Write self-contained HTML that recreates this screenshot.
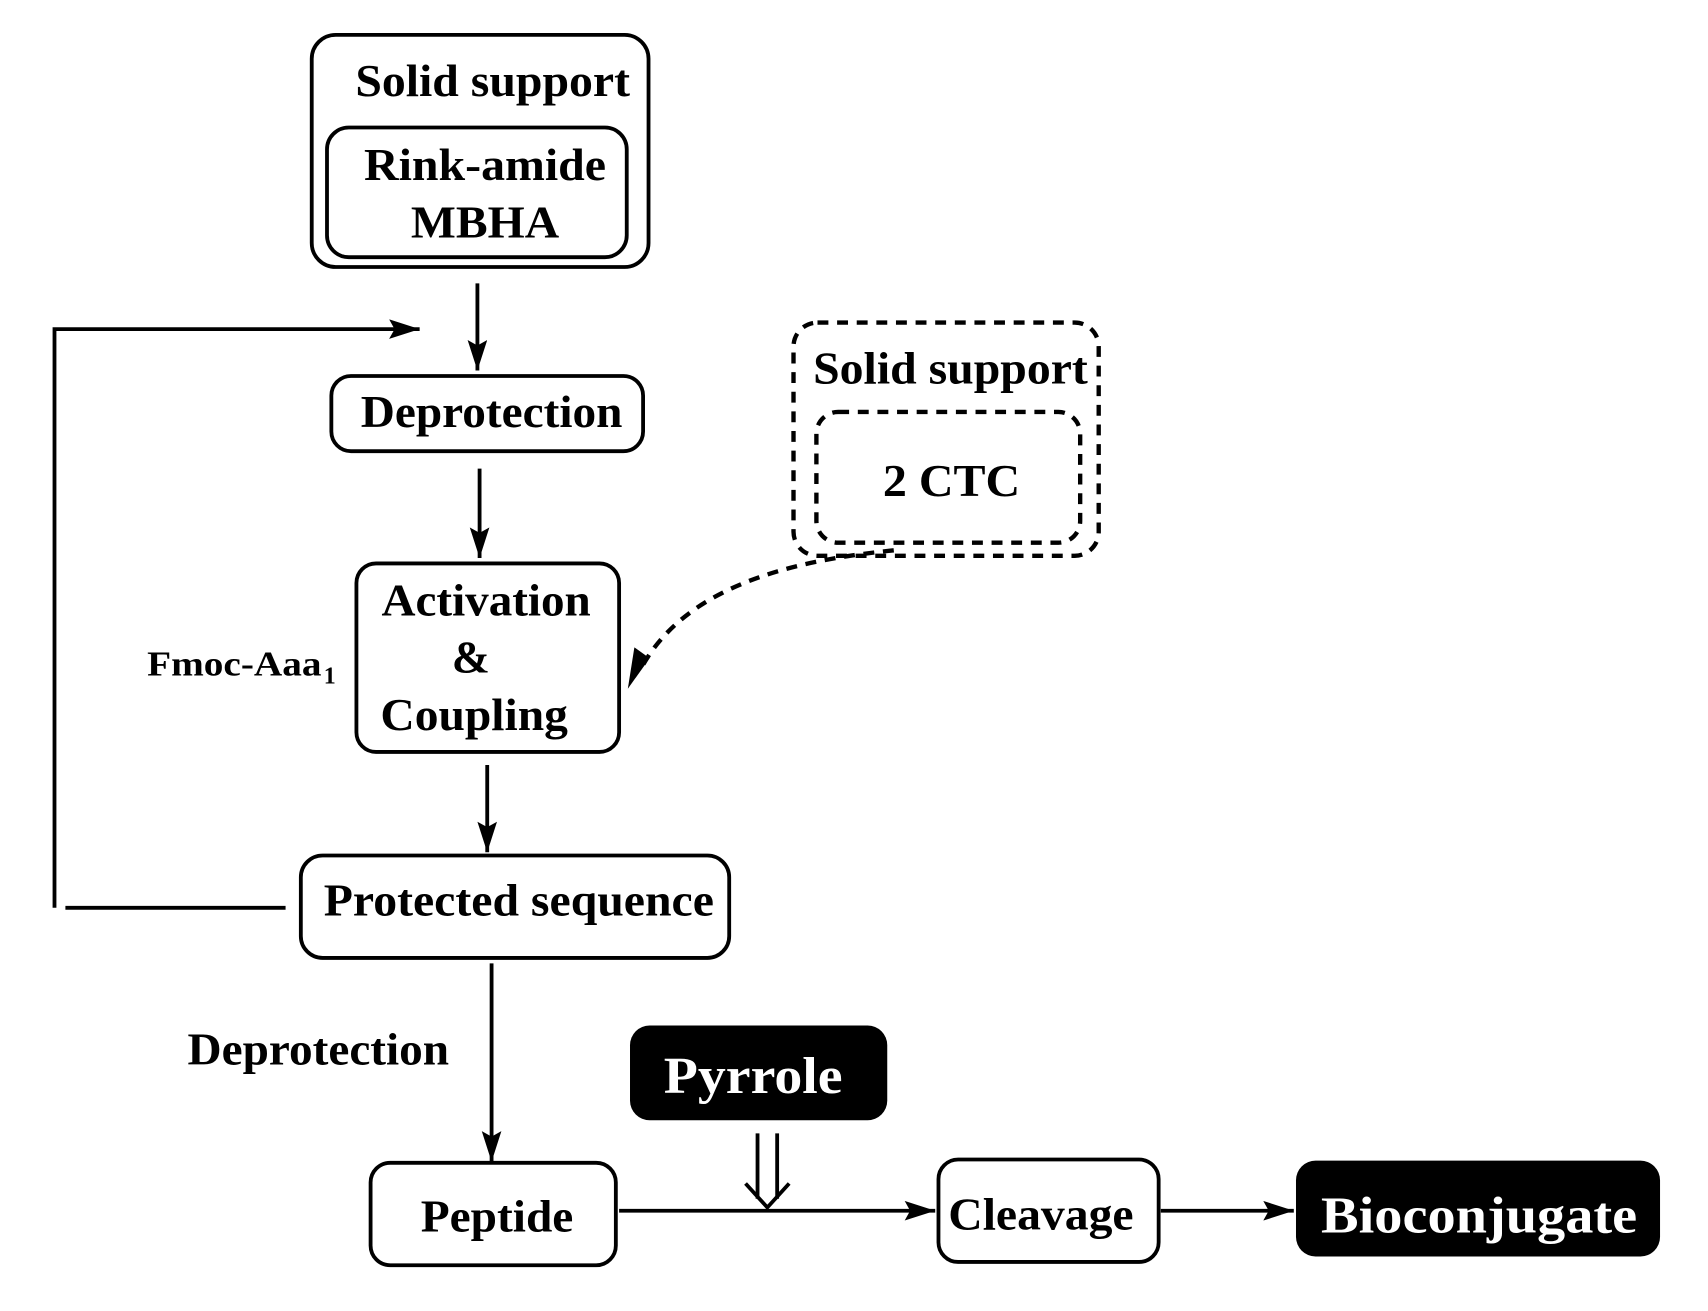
<!DOCTYPE html>
<html><head><style>html,body{margin:0;padding:0;background:#fff}svg{display:block}</style></head>
<body>
<svg width="1708" height="1311" viewBox="0 0 1567 1203" preserveAspectRatio="none" xmlns="http://www.w3.org/2000/svg" font-family="'Liberation Serif', serif" font-weight="bold">
<defs><marker id="A" markerWidth="30" markerHeight="24" refX="28" refY="9" orient="auto" markerUnits="userSpaceOnUse"><path d="M0,0 L28,9 L0,18 L5,9 Z" fill="#000"/></marker></defs>
<style>.b{fill:#fff;stroke:#000;stroke-width:3.5}.l{stroke:#000;stroke-width:3.5;fill:none}.t{font-size:42px;fill:#000}.d{fill:none;stroke:#000;stroke-width:4;stroke-dasharray:10,8}</style>

<rect class="b" x="286" y="32" width="309" height="213" rx="22"/>
<rect class="b" x="300" y="117" width="275" height="119" rx="20"/>
<text class="t" x="326" y="88" textLength="252" lengthAdjust="spacingAndGlyphs">Solid support</text>
<text class="t" x="334" y="165" textLength="222" lengthAdjust="spacingAndGlyphs">Rink-amide</text>
<text class="t" x="377" y="218" textLength="136" lengthAdjust="spacingAndGlyphs">MBHA</text>

<line class="l" x1="438" y1="260" x2="438" y2="340" style="marker-end:url(#A)"/>

<rect class="b" x="304" y="345" width="286" height="69" rx="18"/>
<text class="t" x="331" y="392" textLength="240" lengthAdjust="spacingAndGlyphs">Deprotection</text>
<line class="l" x1="440" y1="430" x2="440" y2="512" style="marker-end:url(#A)"/>

<rect class="b" x="327" y="517" width="241" height="173" rx="18"/>
<text class="t" x="350" y="565" textLength="192" lengthAdjust="spacingAndGlyphs">Activation</text>
<text class="t" x="432" y="617" text-anchor="middle">&amp;</text>
<text class="t" x="349" y="670" textLength="172" lengthAdjust="spacingAndGlyphs">Coupling</text>
<text x="135" y="620" font-size="32" textLength="160" lengthAdjust="spacingAndGlyphs">Fmoc-Aaa</text>
<text x="297" y="627" font-size="22">1</text>

<line class="l" x1="447" y1="702" x2="447" y2="782" style="marker-end:url(#A)"/>

<rect class="b" x="276" y="785" width="393" height="94" rx="20"/>
<text class="t" x="297" y="840" textLength="358" lengthAdjust="spacingAndGlyphs">Protected sequence</text>

<polyline class="l" points="262,833 60,833"/>
<polyline class="l" points="50,833 50,302 385,302" style="marker-end:url(#A)"/>

<line class="l" x1="451" y1="884" x2="451" y2="1066" style="marker-end:url(#A)"/>
<text class="t" x="172" y="977" textLength="240" lengthAdjust="spacingAndGlyphs">Deprotection</text>

<rect class="b" x="340" y="1067" width="225" height="94" rx="18"/>
<text class="t" x="386" y="1130" textLength="140" lengthAdjust="spacingAndGlyphs">Peptide</text>

<rect x="578" y="941" width="236" height="87" rx="18" fill="#000"/>
<text x="609" y="1003" font-size="48" fill="#fff" textLength="164" lengthAdjust="spacingAndGlyphs">Pyrrole</text>

<line class="l" x1="695" y1="1040" x2="695" y2="1100"/>
<line class="l" x1="713" y1="1040" x2="713" y2="1100"/>
<polyline class="l" points="684,1086 704,1108 724,1086"/>

<line class="l" x1="568" y1="1111" x2="858" y2="1111" style="marker-end:url(#A)"/>

<rect class="b" x="861" y="1064" width="202" height="94" rx="18"/>
<text class="t" x="870" y="1128" textLength="170" lengthAdjust="spacingAndGlyphs">Cleavage</text>
<line class="l" x1="1065" y1="1111" x2="1187" y2="1111" style="marker-end:url(#A)"/>

<rect x="1189" y="1065" width="334" height="88" rx="18" fill="#000"/>
<text x="1212" y="1131" font-size="48" fill="#fff" textLength="290" lengthAdjust="spacingAndGlyphs">Bioconjugate</text>

<rect class="d" x="728" y="296" width="280" height="214" rx="22"/>
<rect class="d" x="749" y="378" width="242" height="120" rx="20"/>
<text class="t" x="746" y="352" textLength="252" lengthAdjust="spacingAndGlyphs">Solid support</text>
<text class="t" x="810" y="455" textLength="126" lengthAdjust="spacingAndGlyphs">2 CTC</text>

<path d="M820,505 C720,515 630,540 590,610" fill="none" stroke="#000" stroke-width="4" stroke-dasharray="10,8"/>
<path d="M576,632 L582,594 L596,604 Z" fill="#000"/>
</svg>
</body></html>
